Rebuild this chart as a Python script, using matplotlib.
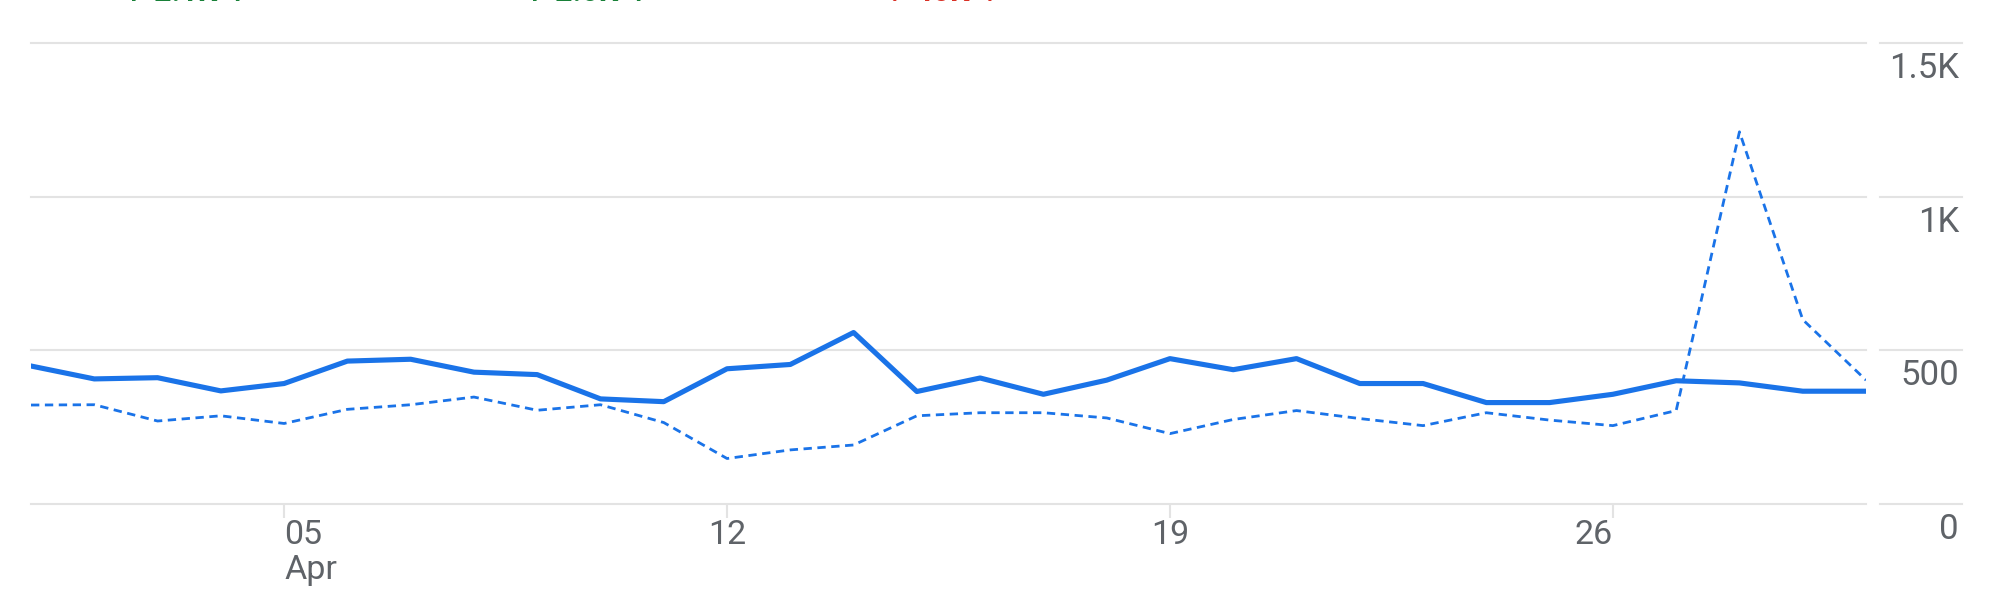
import numpy as np
import matplotlib.pyplot as plt
import matplotlib.transforms as mtransforms

# ----------------------------
# Data (daily values, 1-30 April)
# ----------------------------
days = list(range(1, 31))
current = [449, 407, 411, 368, 392, 465, 471, 429, 421, 342,
           333, 440, 454, 558, 366, 410, 357, 403, 473, 437,
           473, 392, 392, 330, 330, 357, 401, 394, 367, 367]
previous = [322, 323, 270, 287, 262, 308, 323, 348, 305, 323,
            265, 148, 176, 192, 287, 297, 297, 280, 229, 275,
            304, 278, 255, 297, 273, 255, 304, 1211, 600, 403]

y_ticks = [0, 500, 1000, 1500]
y_labels = ["0", "500", "1K", "1.5K"]
x_ticks = [5, 12, 19, 26]
x_labels = ["05\nApr", "12", "19", "26"]
x_align = ["left", "center", "center", "right"]

# cut-off summary figures at the very top of the card
top_texts = ["↑ 2.1K ↑", "↑ 2.0K ↑", "↓ 40K ↓"]
top_x = [121, 522, 882]
top_colors = ["#188038", "#188038", "#d93025"]

BLUE = "#1a73e8"
GRID = "#e3e3e3"
TEXT = "#5f6368"
FONT = ["Roboto", "DejaVu Sans"]

plt.rcParams["font.family"] = FONT

W, H = 2000, 603
fig = plt.figure(figsize=(W / 100, H / 100), dpi=100)
left, right, top, bottom = 31, 1866, 43, 504
ax = fig.add_axes([left / W, 1 - bottom / H, (right - left) / W, (bottom - top) / H])

# ----------------------------
# Lines
# ----------------------------
ax.plot(days, previous, color=BLUE, lw=2.0, dashes=(3.0, 2.0), zorder=3)
ax.plot(days, current, color=BLUE, lw=3.7, solid_joinstyle="round", zorder=4)

ax.set_xlim(days[0], days[-1])
ax.set_ylim(0, 1500)

# ----------------------------
# Grid + right-side label stubs
# ----------------------------
stub = mtransforms.blended_transform_factory(ax.transAxes, ax.transData)
x0 = (1880 - left) / (right - left)
x1 = (1962 - left) / (right - left)
for v in y_ticks:
    ax.axhline(v, color=GRID, lw=1.5, zorder=1, clip_on=False)
    ax.plot([x0, x1], [v, v], color=GRID, lw=1.5, transform=stub, clip_on=False)

for v, lab in zip(y_ticks, y_labels):
    ax.annotate(lab, xy=(x1, v), xycoords=stub, xytext=(-3, -9), textcoords="offset pixels",
                ha="right", va="top", fontsize=25, color=TEXT)

# x ticks: short grey marks below the baseline, labels underneath
for d, lab, ha in zip(x_ticks, x_labels, x_align):
    ax.vlines(d, 0, -14 * 1500 / (bottom - top), color=GRID, lw=1.5, clip_on=False)
    ax.annotate(lab, xy=(d, 0), xycoords="data", xytext=(0, -15), textcoords="offset pixels",
                ha=ha, va="top", fontsize=24.5, color=TEXT, linespacing=1.1)

for s in ax.spines.values():
    s.set_visible(False)
ax.set_xticks([])
ax.set_yticks([])

for t, x, c in zip(top_texts, top_x, top_colors):
    fig.text(x / W, 1 - 1 / H, t, ha="left", va="baseline", fontsize=22,
             color=c, fontweight="bold")

fig.savefig("out.png", dpi=100, facecolor="white")
